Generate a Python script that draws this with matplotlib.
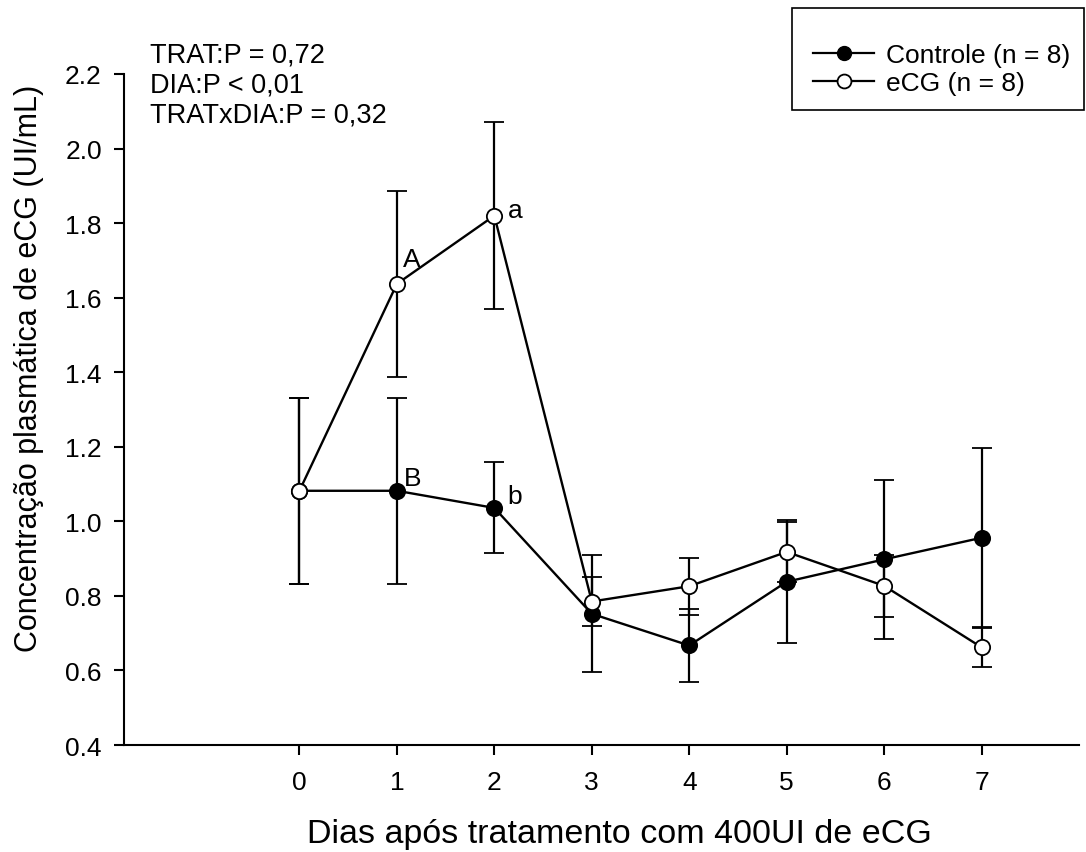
import matplotlib
matplotlib.use("Agg")
import matplotlib.pyplot as plt
from matplotlib.patches import Rectangle
from matplotlib.lines import Line2D

plt.rcParams['font.family'] = ['Liberation Sans', 'DejaVu Sans']

# dados (media +/- erro padrao)
dias = [0, 1, 2, 3, 4, 5, 6, 7]
controle = [1.082, 1.082, 1.036, 0.752, 0.667, 0.838, 0.898, 0.956]
controle_ep = [0.25, 0.25, 0.122, 0.157, 0.097, 0.165, 0.213, 0.24]
ecg = [1.082, 1.637, 1.820, 0.785, 0.826, 0.918, 0.827, 0.662]
ecg_ep = [0.25, 0.25, 0.25, 0.066, 0.077, 0.081, 0.084, 0.053]

letras = [("A", 1, 1.637, (4.5, 13)), ("a", 2, 1.820, (9.5, -1)),
          ("B", 1, 1.082, (5, 4.5)), ("b", 2, 1.036, (9.5, 3.5))]

estat = ["TRAT:P = 0,72", "DIA:P < 0,01", "TRATxDIA:P = 0,32"]

fig = plt.figure(figsize=(10.86, 8.53), dpi=100)
ax = fig.add_axes([0.1142, 0.1254, 0.8794, 0.7867])

ax.errorbar(dias, controle, yerr=controle_ep, color='black', lw=1.7,
            elinewidth=1.6, capsize=7, capthick=1.6, marker='o', ms=11,
            mfc='black', mec='black', mew=1.3, zorder=3)
ax.errorbar(dias, ecg, yerr=ecg_ep, color='black', lw=1.7,
            elinewidth=1.6, capsize=7, capthick=1.6, marker='o', ms=11,
            mfc='white', mec='black', mew=1.3, zorder=4)

for txt, x, y, off in letras:
    ax.annotate(txt, (x, y), xytext=off, textcoords='offset points',
                fontsize=19, ha='left', va='baseline')

ax.set_xlim(-1.8, 8.0)
ax.set_ylim(0.4, 2.2)
ax.set_xticks(dias)
ax.set_yticks([0.4, 0.6, 0.8, 1.0, 1.2, 1.4, 1.6, 1.8, 2.0, 2.2])
ax.set_yticklabels([f"{v:.1f}" for v in ax.get_yticks()])
ax.spines['top'].set_visible(False)
ax.spines['right'].set_visible(False)
for s in ['left', 'bottom']:
    ax.spines[s].set_linewidth(1.5)
ax.tick_params(direction='out', length=7, width=1.5, labelsize=19, pad=9)
ax.tick_params(axis='x', pad=11)

ax.set_xlabel("Dias após tratamento com 400UI de eCG", fontsize=24.5)
ax.xaxis.set_label_coords(0.519, -0.108)
ax.set_ylabel("Concentração plasmática de eCG (UI/mL)", fontsize=22)
ax.yaxis.set_label_coords(-0.084, 0.563)

for i, t in enumerate(estat):
    fig.text(150 / 1086, 1 - (63 + 30 * i) / 853, t, fontsize=19.5,
             ha='left', va='baseline')

# legenda com moldura
fig.patches.append(Rectangle((792 / 1086, 1 - 111 / 853), 292 / 1086, 102 / 853,
                             transform=fig.transFigure, fill=False,
                             edgecolor='black', lw=1.2))
handles = [Line2D([], [], color='black', lw=1.6, marker='o', ms=10,
                  mfc='black', mec='black'),
           Line2D([], [], color='black', lw=1.6, marker='o', ms=10,
                  mfc='white', mec='black', mew=1.3)]
fig.legend(handles, ['Controle (n = 8)', 'eCG (n = 8)'], loc='upper left',
           bbox_to_anchor=(800 / 1086, 1 - 31 / 853), frameon=False,
           fontsize=19, handlelength=2.3, labelspacing=0.15,
           handletextpad=0.45, borderpad=0)

fig.savefig("out.png", dpi=100)
